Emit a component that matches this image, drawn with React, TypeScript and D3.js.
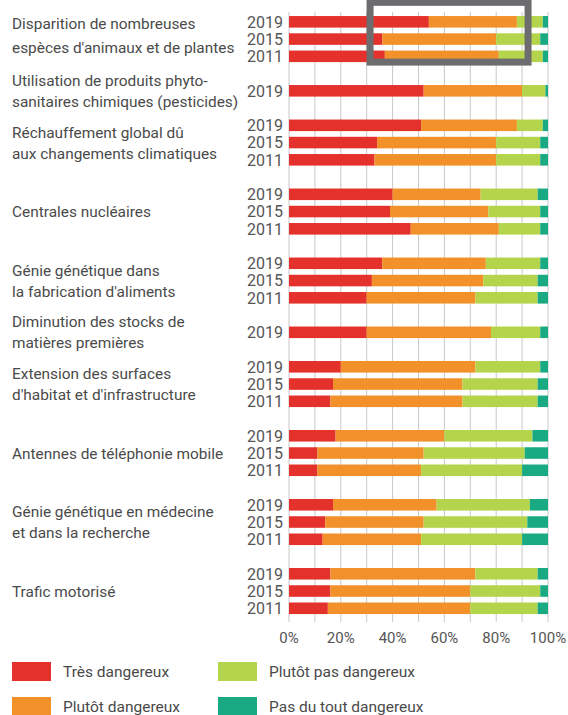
import { scaleBand, scaleLinear, range } from "d3";

const CATEGORIES = [
  ["Disparition de nombreuses", "espèces d'animaux et de plantes"],
  ["Utilisation de produits phyto-", "sanitaires chimiques (pesticides)"],
  ["Réchauffement global dû", "aux changements climatiques"],
  ["Centrales nucléaires"],
  ["Génie génétique dans", "la fabrication d'aliments"],
  ["Diminution des stocks de", "matières premières"],
  ["Extension des surfaces", "d'habitat et d'infrastructure"],
  ["Antennes de téléphonie mobile"],
  ["Génie génétique en médecine", "et dans la recherche"],
  ["Trafic motorisé"],
];

const YEARS = [
  ["2019", "2015", "2011"],
  ["2019"],
  ["2019", "2015", "2011"],
  ["2019", "2015", "2011"],
  ["2019", "2015", "2011"],
  ["2019"],
  ["2019", "2015", "2011"],
  ["2019", "2015", "2011"],
  ["2019", "2015", "2011"],
  ["2019", "2015", "2011"],
];

// share of answers, in %, one entry per year of each category
const TRES_DANGEREUX = [[54, 36, 37], [52], [51, 34, 33], [40, 39, 47], [36, 32, 30], [30], [20, 17, 16], [18, 11, 11], [17, 14, 13], [16, 16, 15]];
const PLUTOT_DANGEREUX = [[34, 44, 44], [38], [37, 46, 47], [34, 38, 34], [40, 43, 42], [48], [52, 50, 51], [42, 41, 40], [40, 38, 38], [56, 54, 55]];
const PLUTOT_PAS = [[10, 17, 17], [9], [10, 17, 17], [22, 20, 16], [21, 21, 24], [19], [25, 29, 29], [34, 39, 39], [36, 40, 39], [24, 27, 26]];
const PAS_DU_TOUT = [[2, 3, 2], [1], [2, 3, 3], [4, 3, 3], [3, 4, 4], [3], [3, 4, 4], [6, 9, 10], [7, 8, 10], [4, 3, 4]];

const LEGEND = ["Très dangereux", "Plutôt dangereux", "Plutôt pas dangereux", "Pas du tout dangereux"];
const COLORS = ["#e4312b", "#f29129", "#b4d54b", "#19aa84"];
const TICKS = [0, 20, 40, 60, 80, 100];

const WIDTH = 568;
const HEIGHT = 715;
const FONT = "Roboto, 'Noto Sans', sans-serif";

export default function App() {
  const series = [TRES_DANGEREUX, PLUTOT_DANGEREUX, PLUTOT_PAS, PAS_DU_TOUT];

  // one slot per year row, one empty slot between categories
  const slots: string[] = [];
  YEARS.forEach((years, i) => {
    years.forEach((y) => slots.push(`${i}-${y}`));
    if (i < YEARS.length - 1) slots.push(`gap-${i}`);
  });

  const x = scaleLinear().domain([0, 100]).range([289, 548]);
  const y = scaleBand<string>()
    .domain(slots)
    .range([13.2, 616.9])
    .paddingInner(0.33)
    .paddingOuter(0.165);
  const bw = y.bandwidth();

  const rows = YEARS.flatMap((years, i) =>
    years.map((year, j) => {
      let acc = 0;
      const segs = series.map((s, k) => {
        const v = s[i][j];
        const seg = { x0: acc, x1: acc + v, color: COLORS[k] };
        acc += v;
        return seg;
      });
      return { key: `${i}-${year}`, year, segs };
    })
  );

  const firstKey = `0-${YEARS[0][0]}`;
  const lastKey = `0-${YEARS[0][YEARS[0].length - 1]}`;

  return (
    <svg
      width={WIDTH}
      height={HEIGHT}
      style={{ position: "absolute", left: 0, top: 0, background: "#fff" }}
      fontFamily={FONT}
    >
      {range(0, 101, 10).map((t) => (
        <line key={t} x1={x(t)} x2={x(t)} y1={12} y2={622} stroke="#c8c8c8" strokeWidth={1} />
      ))}

      {rows.map((r) => (
        <g key={r.key}>
          {r.segs.map((s, k) => (
            <rect
              key={k}
              x={x(s.x0)}
              y={y(r.key)}
              width={x(s.x1) - x(s.x0)}
              height={bw}
              fill={s.color}
            />
          ))}
          <text
            x={283}
            y={(y(r.key) ?? 0) + bw / 2}
            dy="0.36em"
            textAnchor="end"
            fontSize={16}
            fill="#555"
          >
            {r.year}
          </text>
        </g>
      ))}

      {CATEGORIES.map((lines, i) => {
        const years = YEARS[i];
        const top = y(`${i}-${years[0]}`) ?? 0;
        const bottom = (y(`${i}-${years[years.length - 1]}`) ?? 0) + bw;
        const mid = (top + bottom) / 2 - (i === 0 ? 4 : 0);
        const lh = i === 0 ? 24 : 21;
        return (
          <text key={i} x={12} fontSize={15.4} fill="#4a4a4a">
            {lines.map((l, k) => (
              <tspan key={k} x={12} y={mid + (k - (lines.length - 1) / 2) * lh} dy="0.36em">
                {l}
              </tspan>
            ))}
          </text>
        );
      })}

      {TICKS.map((t) => (
        <text key={t} x={x(t)} y={643} textAnchor="middle" fontSize={15} fill="#555">
          {t}%
        </text>
      ))}

      <rect
        x={x(31.3)}
        y={(y(firstKey) ?? 0) - 13.7}
        width={x(92.3) - x(31.3)}
        height={(y(lastKey) ?? 0) + bw - (y(firstKey) ?? 0) + 13.7}
        fill="none"
        stroke="#6d6d6f"
        strokeWidth={7}
      />

      {LEGEND.map((label, i) => {
        const col = Math.floor(i / 2);
        const row = i % 2;
        const lx = col === 0 ? 12 : 218;
        const ly = 662 + row * 35;
        return (
          <g key={label}>
            <rect x={lx} y={ly} width={39} height={19} fill={COLORS[i]} />
            <text x={lx + 51} y={ly + 9.5} dy="0.36em" fontSize={15.5} fill="#4a4a4a">
              {label}
            </text>
          </g>
        );
      })}
    </svg>
  );
}
